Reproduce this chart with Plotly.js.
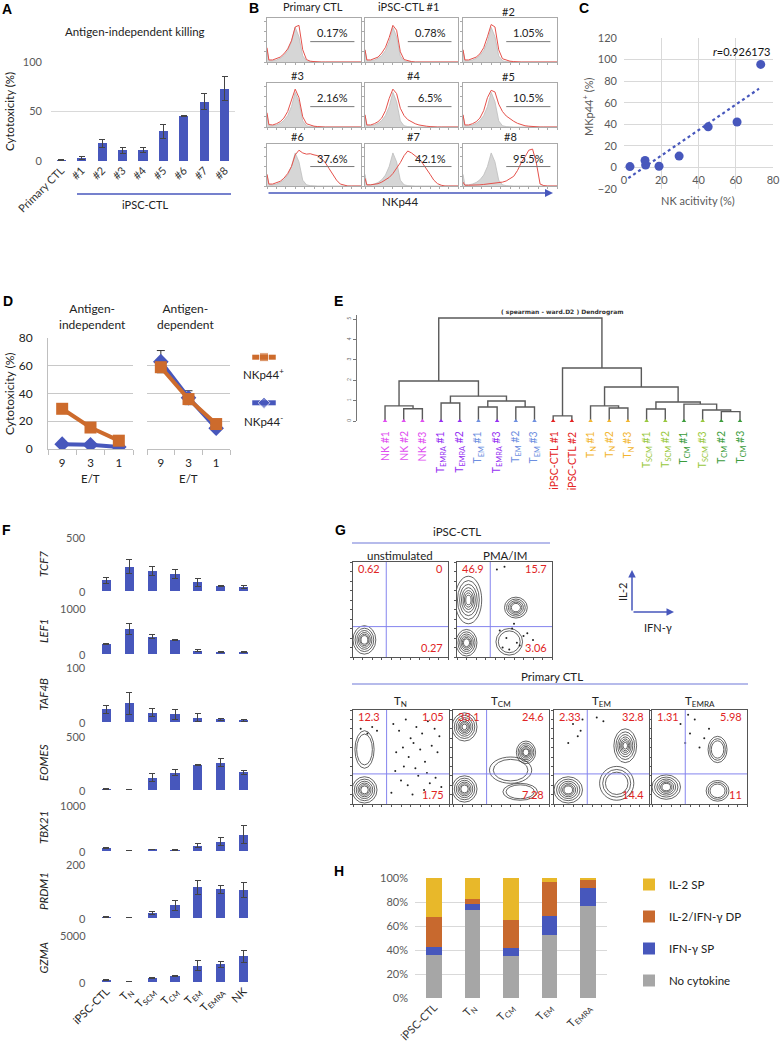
<!DOCTYPE html>
<html><head><meta charset="utf-8">
<script src="https://cdn.plot.ly/plotly-3.0.1.min.js"></script>
<style>html,body{margin:0;padding:0;background:#fff}#chart{width:780px;height:1042px}</style>
</head><body><div id="chart"></div>
<script>
// ================= DATA =================
// A: antigen-independent killing
const killCats = ['Primary CTL','#1','#2','#3','#4','#5','#6','#7','#8'];
const killVals = [1.3,3,18,11,11,30,45,60,73];
const killErr  = [0.5,1.2,4,3,2.5,7,0.5,8,12];

// B: NKp44 histograms
const nkTitles = ['Primary CTL','iPSC-CTL #1','#2','#3','#4','#5','#6','#7','#8'];
const nkPct = ['0.17%','0.78%','1.05%','2.16%','6.5%','10.5%','37.6%','42.1%','95.5%'];
const histBins = [0,2,6,10,14,18,22,26,30,34,38,42,46,50,54,58,62,66,70,74,78,82,86,90,95,100];
const isoCurve = [0.3,0.03,0.03,0.05,0.09,0.16,0.28,0.5,0.85,0.62,0.15,0.03,0.01,0,0,0,0,0,0,0,0,0,0,0,0,0];
const nkCurvePrimary = [0.35,0.05,0.05,0.08,0.12,0.2,0.32,0.52,0.86,0.9,0.3,0.06,0.02,0.01,0,0,0,0,0,0,0,0,0,0,0,0];
const nkCurve1 = [0.3,0.05,0.05,0.08,0.12,0.22,0.36,0.6,0.9,0.78,0.25,0.06,0.03,0.01,0,0,0,0,0,0,0,0,0,0,0,0];
const nkCurve2 = [0.3,0.05,0.05,0.08,0.12,0.2,0.35,0.62,0.92,0.86,0.3,0.08,0.04,0.02,0.01,0,0,0,0,0,0,0,0,0,0,0];
const nkCurve3 = [0.35,0.06,0.05,0.08,0.13,0.22,0.38,0.65,0.93,0.72,0.25,0.08,0.04,0.02,0.01,0,0,0,0,0,0,0,0,0,0,0];
const nkCurve4 = [0.3,0.05,0.05,0.08,0.13,0.22,0.4,0.7,0.93,0.82,0.46,0.28,0.18,0.12,0.08,0.05,0.03,0.02,0.01,0,0,0,0,0,0,0];
const nkCurve5 = [0.3,0.05,0.05,0.08,0.13,0.22,0.4,0.72,0.9,0.86,0.56,0.38,0.27,0.2,0.14,0.09,0.06,0.03,0.02,0.01,0,0,0,0,0,0];
const nkCurve6 = [0.3,0.05,0.05,0.08,0.12,0.2,0.32,0.5,0.8,0.92,0.85,0.82,0.83,0.8,0.78,0.7,0.6,0.45,0.3,0.15,0.05,0.02,0,0,0,0];
const nkCurve7 = [0.2,0.03,0.03,0.04,0.06,0.1,0.15,0.22,0.32,0.45,0.6,0.78,0.9,0.85,0.78,0.7,0.58,0.45,0.3,0.15,0.06,0.02,0,0,0,0];
const nkCurve8 = [0.1,0.02,0.02,0.02,0.02,0.03,0.04,0.05,0.06,0.07,0.08,0.1,0.13,0.18,0.25,0.4,0.6,0.75,0.92,0.95,0.6,0.05,0.01,0,0,0];
const nkCurves = [nkCurvePrimary,nkCurve1,nkCurve2,nkCurve3,nkCurve4,nkCurve5,nkCurve6,nkCurve7,nkCurve8];
const gateX = [46,93];
const gateY = [0.5,0.5];

// C: correlation
const nkActivity = [3.2,18.8,11.6,11.3,29.6,45.2,60.7,73.4];
const nkp44Pos   = [0.78,1.05,2.16,6.5,10.5,37.6,42.1,95.5];
const trendX = [2.3,72.5];
const trendY = [-10,73];
const rText = '<i>r</i>=0.926173';

// D: cytotoxicity vs E/T
const etRatio = ['9','3','1'];
const indepPos = [29,15.5,6];
const indepNeg = [3.5,3,1.5];
const depPos = [59,36,18];
const depNeg = [63,37,15];
const depNegErr = [8,5,2];

// E: dendrogram
const leafNames = ['NK #1','NK #2','NK #3','T<sub>EMRA</sub> #1','T<sub>EMRA</sub> #2','T<sub>EM</sub> #1','T<sub>EMRA</sub> #3','T<sub>EM</sub> #2','T<sub>EM</sub> #3','iPSC-CTL #1','iPSC-CTL #2','T<sub>N</sub> #1','T<sub>N</sub> #2','T<sub>N</sub> #3','T<sub>SCM</sub> #1','T<sub>SCM</sub> #2','T<sub>CM</sub> #1','T<sub>SCM</sub> #3','T<sub>CM</sub> #2','T<sub>CM</sub> #3'];
const leafGroup = ['NK','NK','NK','TEMRA','TEMRA','TEM','TEMRA','TEM','TEM','iPSC','iPSC','TN','TN','TN','TSCM','TSCM','TCM','TSCM','TCM','TCM'];
// hclust-style merges: negative = leaf (1-based), positive = earlier merge (1-based)
const mergeA = [-2,-1,-4,-6,-8,4,3,2,-10,-13,-12,-15,-19,-18,-17,12,11,9,8];
const mergeB = [-3, 1,-5,-7,-9,5,6,7,-11,-14, 10,-16,-20, 13, 14,15,16,17,18];
const mergeH = [0.6,0.74,0.88,0.69,0.69,0.98,1.22,1.96,0.25,0.64,0.74,0.59,0.46,0.54,0.83,0.93,1.67,2.6,5.05];
const dendTicks = [0,1,2,3,4,5];

// F: gene expression
const fCats = ['iPSC-CTL','T<sub>N</sub>','T<sub>SCM</sub>','T<sub>CM</sub>','T<sub>EM</sub>','T<sub>EMRA</sub>','NK'];
const fGenes = ['TCF7','LEF1','TAF4B','EOMES','TBX21','PRDM1','GZMA'];
const fMax = [500,1000,100,500,1000,200,5000];
const TCF7  = [100,225,185,155,80,45,40];      const TCF7err  = [27,65,42,40,37,5,15];
const LEF1  = [215,545,380,300,70,40,40];      const LEF1err  = [8,115,35,15,22,8,8];
const TAF4B = [23,34,17,14,8,5,3];             const TAF4Berr = [7,20,7,9,7,2,1.5];
const EOMES = [9,2,115,160,230,253,165];       const EOMESerr = [2,1,40,30,4,37,20];
const TBX21 = [72,3,36,22,116,203,355];        const TBX21err = [8,2,7,7,50,87,195];
const PRDM1 = [4,1.2,18.5,47,114,107,105];     const PRDM1err = [1,0.5,6,18,26,15,28];
const GZMA  = [210,35,420,670,1725,1900,2750]; const GZMAerr  = [70,15,70,70,530,320,630];
const fVals = [TCF7,LEF1,TAF4B,EOMES,TBX21,PRDM1,GZMA];
const fErrs = [TCF7err,LEF1err,TAF4Berr,EOMESerr,TBX21err,PRDM1err,GZMAerr];

// G: flow plots (IFN-γ on x, IL-2 on y, 0-100 display scale)
const gTitles = ['unstimulated','PMA/IM','T<sub>N</sub>','T<sub>CM</sub>','T<sub>EM</sub>','T<sub>EMRA</sub>'];
const gUL = ['0.62','46.9','12.3','33.1','2.33','1.31'];
const gUR = ['0','15.7','1.05','24.6','32.8','5.98'];
const gLR = ['0.27','3.06','1.75','7.28','14.4','11'];
const gGate = [35,32];
// populations: [centre x, centre y, radius x, radius y, contour rings]
const gBlobs = [
  [[12,18,12,15,6]],
  [[10,15,11,14,6],[12,60,14,25,7],[62,52,12,11,5],[55,16,14,14,2]],
  [[12,15,13,14,6],[12,58,10,20,2]],
  [[12,82,13,15,7],[12,16,13,14,6],[76,55,10,12,6],[60,36,22,14,2],[70,13,18,9,2]],
  [[15,15,15,14,6],[75,62,12,18,7],[66,22,18,18,3]],
  [[15,18,15,13,6],[69,58,10,14,3],[69,14,12,11,3]]
];
const gDotsX = [[],[45,52,58,63,70,48,55,66,74,60,80,42,50],[42,48,55,60,66,72,78,85,90,45,52,58,63,70,75,82,88,50,57,68,74,80,62,40,44,53,65,77,86,92,8,15,20,25],[],[20,25,30,15,28,45,52],[30,40,45,55,50,38,60,35]];
const gDotsY = [[],[28,20,30,15,22,10,8,12,25,35,18,92,95],[85,78,90,70,82,75,88,80,72,55,60,50,65,58,45,62,55,25,20,30,15,22,10,12,35,40,38,33,28,18,80,75,82,78],[],[85,72,90,65,78,92,88],[85,75,90,70,60,95,80,65]];

// H: cytokine production
const cytoCats = ['iPSC-CTL','T<sub>N</sub>','T<sub>CM</sub>','T<sub>EM</sub>','T<sub>EMRA</sub>'];
const noCyto = [35.9,73.2,35.1,52.5,77.1];
const ifnSP  = [6.9,5.3,6.9,16,14.6];
const dpIL2IFN = [24.6,3.8,22.9,28.5,6.9];
const il2SP  = [32.6,17.7,35.1,3,1.4];

// ================= HELPERS =================
const W=780,H=1042;
const FONT='Lato, "Open Sans", "Liberation Sans", sans-serif';
const GRID='#d9d9d9', TICK='#595959', BLUE='#4757bc', ORANGE='#cd6b2c', RED='#e02424';
const layout={width:W,height:H,margin:{l:0,r:0,t:0,b:0},paper_bgcolor:'#fff',plot_bgcolor:'rgba(0,0,0,0)',
  font:{family:FONT,size:11,color:'#222'},annotations:[],shapes:[],barmode:'stack',showlegend:true,
  legend:{x:629/W,y:1-870/H,xanchor:'left',yanchor:'top',traceorder:'grouped',tracegroupgap:13,font:{size:11.5,color:'#222'},itemwidth:30,bgcolor:'rgba(0,0,0,0)'}};
const data=[];
let nAx=0;
function axes(px0,px1,py0,py1,xo,yo){
  nAx++; const s=nAx===1?'':String(nAx);
  const base={showgrid:false,zeroline:false,showline:false,ticks:'',showticklabels:false,fixedrange:true};
  layout['xaxis'+s]=Object.assign({},base,{domain:[px0/W,px1/W],anchor:'y'+s},xo||{});
  layout['yaxis'+s]=Object.assign({},base,{domain:[1-py1/H,1-py0/H],anchor:'x'+s},yo||{});
  return {x:'x'+s,y:'y'+s};
}
function txt(px,py,text,o){
  layout.annotations.push(Object.assign({xref:'paper',yref:'paper',x:px/W,y:1-py/H,text:text,showarrow:false,
    xanchor:'center',yanchor:'middle',font:{size:11,color:'#222'}},o||{}));
}
function pline(px0,py0,px1,py1,color,w){
  layout.shapes.push({type:'line',xref:'paper',yref:'paper',x0:px0/W,y0:1-py0/H,x1:px1/W,y1:1-py1/H,line:{color:color,width:w||1}});
}
function letter(px,py,t){ txt(px,py,'<b>'+t+'</b>',{font:{size:14,color:'#000',family:'"Liberation Sans", Arial, sans-serif'}}); }

// ================= A =================
letter(7,9,'A');
let ax=axes(51,235,62,161,
  {type:'category',range:[-0.5,8.5],tickangle:-45,showticklabels:true,tickfont:{size:11,color:'#333'}},
  {range:[0,100.05],tickvals:[0,50,100],showgrid:true,gridcolor:GRID,showticklabels:true,tickfont:{size:11,color:TICK},ticklabelstandoff:8});
data.push({type:'bar',x:killCats,y:killVals,xaxis:ax.x,yaxis:ax.y,width:0.45,marker:{color:BLUE},
  error_y:{type:'data',array:killErr,color:'#444',thickness:1,width:3},showlegend:false});
txt(135,31,'Antigen-independent killing',{font:{size:11.5,color:'#222'}});
txt(10,112,'Cytotoxicity (%)',{textangle:-90,font:{size:11.5,color:'#222'}});
pline(77,194,231,194,BLUE,1.5);
txt(145,204,'iPSC-CTL',{font:{size:11,color:'#222'}});

// ================= B =================
letter(254,8,'B');
const bCols=[[267,361],[365,458],[463,557]], bRows=[[18,62],[83,127],[144,186]];
const bTitlePos=[[313,6],[408,6],[508,12],[297,75],[413,75],[508,77],[297,137],[413,137],[510,137]];
for(let i=0;i<9;i++){
  const r=Math.floor(i/3), c=i%3;
  const a=axes(bCols[c][0],bCols[c][1],bRows[r][0],bRows[r][1],
    {range:[0,100],showline:true,mirror:true,linecolor:'#aaa',ticks:'outside',ticklen:2,dtick:10,tickcolor:'#aaa'},
    {range:[0,1.08],showline:true,mirror:true,linecolor:'#aaa',ticks:'outside',ticklen:2,dtick:0.25,tickcolor:'#aaa'});
  data.push({type:'scatter',mode:'lines',x:histBins,y:isoCurve,xaxis:a.x,yaxis:a.y,fill:'tozeroy',fillcolor:'#d6d6d6',line:{color:'#bdbdbd',width:0.8},showlegend:false});
  data.push({type:'scatter',mode:'lines',x:histBins,y:nkCurves[i],xaxis:a.x,yaxis:a.y,line:{color:'#e5514b',width:1},showlegend:false});
  data.push({type:'scatter',mode:'lines',x:gateX,y:gateY,xaxis:a.x,yaxis:a.y,line:{color:'#777',width:1},showlegend:false});
  layout.annotations.push({xref:a.x,yref:a.y,x:70,y:0.72,text:nkPct[i],showarrow:false,font:{size:11,color:'#222'}});
  txt(bTitlePos[i][0],bTitlePos[i][1],nkTitles[i],{font:{size:11,color:'#222'}});
}
layout.annotations.push({xref:'paper',yref:'paper',x:553/W,y:1-193/H,ax:-286,ay:0,text:'',showarrow:true,arrowhead:2,arrowsize:1,arrowwidth:1.6,arrowcolor:BLUE});
txt(401,201,'NKp44',{font:{size:11.5,color:'#222'}});

// ================= C =================
letter(584,8,'C');
ax=axes(624,773,38,189,
  {range:[0,80],dtick:20,showgrid:true,gridcolor:GRID,showticklabels:true,tickfont:{size:11,color:TICK},anchor:'free',position:1-167.4/H,ticklabelstandoff:5},
  {range:[-20,120],dtick:20,showgrid:true,gridcolor:GRID,showticklabels:true,tickfont:{size:11,color:TICK},ticklabelstandoff:6});
data.push({type:'scatter',mode:'lines',x:trendX,y:trendY,xaxis:ax.x,yaxis:ax.y,line:{color:BLUE,width:2.2,dash:'dot'},showlegend:false});
data.push({type:'scatter',mode:'markers',x:nkActivity,y:nkp44Pos,xaxis:ax.x,yaxis:ax.y,marker:{color:BLUE,size:9},showlegend:false});
txt(741,51,rText,{font:{size:11,color:'#111'}});
txt(588,107,'MKp44<sup>+</sup> (%)',{textangle:-90,font:{size:11,color:TICK}});
txt(698,200,'NK acitivity (%)',{font:{size:11,color:TICK}});

// ================= D =================
letter(8,301,'D');
const dX={type:'category',range:[-0.5,2.5],showline:true,linecolor:'#bfbfbf',ticks:'outside',tickson:'boundaries',ticklen:5,tickcolor:'#bfbfbf',showticklabels:true,tickfont:{size:11.5,color:'#222'},ticklabelstandoff:3};
ax=axes(48,133,338,449,dX,
  {range:[0,80.05],dtick:20,showgrid:true,gridcolor:'#c8c8c8',showline:true,linecolor:'#bfbfbf',showticklabels:true,tickfont:{size:12,color:'#222'},ticklabelstandoff:12});
data.push({type:'scatter',mode:'lines+markers',x:etRatio,y:indepNeg,xaxis:ax.x,yaxis:ax.y,line:{color:BLUE,width:4},marker:{symbol:'diamond',size:12,color:BLUE},showlegend:false});
data.push({type:'scatter',mode:'lines+markers',x:etRatio,y:indepPos,xaxis:ax.x,yaxis:ax.y,line:{color:ORANGE,width:4},marker:{symbol:'square',size:12,color:ORANGE},showlegend:false});
ax=axes(147,230,338,449,dX,{range:[0,80.05],dtick:20,showgrid:true,gridcolor:'#c8c8c8'});
data.push({type:'scatter',mode:'lines+markers',x:etRatio,y:depNeg,xaxis:ax.x,yaxis:ax.y,line:{color:BLUE,width:4},marker:{symbol:'diamond',size:12,color:BLUE},
  error_y:{type:'data',array:depNegErr,color:'#333',thickness:1,width:4},showlegend:false});
data.push({type:'scatter',mode:'lines+markers',x:etRatio,y:depPos,xaxis:ax.x,yaxis:ax.y,line:{color:ORANGE,width:4},marker:{symbol:'square',size:12,color:ORANGE},showlegend:false});
txt(92,316,'Antigen-<br>independent',{font:{size:12,color:'#222'}});
txt(185,316,'Antigen-<br>dependent',{font:{size:12,color:'#222'}});
txt(90,478,'E/T',{font:{size:11.5,color:'#222'}});
txt(188,478,'E/T',{font:{size:11.5,color:'#222'}});
txt(9,394,'Cytotoxicity (%)',{textangle:-90,font:{size:12,color:'#222'}});
// manual legend
ax=axes(250,278,350,410,{range:[0,1]},{range:[0,1]});
data.push({type:'scatter',mode:'lines+markers',x:[0.08,0.5,0.92],y:[0.88,0.88,0.88],xaxis:ax.x,yaxis:ax.y,line:{color:ORANGE,width:5},marker:{symbol:'square',size:[0,9,0],color:ORANGE},showlegend:false});
data.push({type:'scatter',mode:'lines+markers',x:[0.08,0.5,0.92],y:[0.12,0.12,0.12],xaxis:ax.x,yaxis:ax.y,line:{color:BLUE,width:5},marker:{symbol:'diamond',size:[0,9,0],color:BLUE},showlegend:false});
txt(263,373,'NKp44<sup>+</sup>',{font:{size:11.5,color:'#222'}});
txt(263,420,'NKp44<sup>-</sup>',{font:{size:11.5,color:'#222'}});

// ================= E =================
letter(338,301,'E');
ax=axes(357,760,315,421,{range:[-0.5,21.07]},
  {range:[0,5.2],tickvals:dendTicks,showline:true,linecolor:'#777',ticks:'outside',ticklen:3,tickcolor:'#777',showticklabels:true,tickfont:{size:5,color:'#666'},tickangle:-90});
const nodeX=[],nodeH=[];
function nodePos(id){ return id<0?[-id,0]:[nodeX[id-1],nodeH[id-1]]; }
const dxs=[],dys=[];
for(let k=0;k<mergeA.length;k++){
  const pa=nodePos(mergeA[k]), pb=nodePos(mergeB[k]), h=mergeH[k];
  dxs.push(pa[0],pa[0],pb[0],pb[0],null); dys.push(pa[1],h,h,pb[1],null);
  nodeX.push((pa[0]+pb[0])/2); nodeH.push(h);
}
data.push({type:'scatter',mode:'lines',x:dxs,y:dys,xaxis:ax.x,yaxis:ax.y,line:{color:'#5a5a5a',width:1.4},showlegend:false});
const groupColor={NK:'#e04cf0',TEMRA:'#9630f2',TEM:'#6d8ee0',iPSC:'#e42222',TN:'#f2b52e',TSCM:'#98c83c',TCM:'#3b9c3b'};
const leafX=leafNames.map((_,i)=>i+1);
data.push({type:'scatter',mode:'markers',x:leafX,y:leafX.map(()=>0),xaxis:ax.x,yaxis:ax.y,marker:{symbol:'triangle-up',size:4,color:leafGroup.map(g=>groupColor[g])},showlegend:false,cliponaxis:false});
leafNames.forEach((n,i)=>{
  layout.annotations.push({xref:ax.x,yref:'paper',x:i+1,y:1-429/H,text:n,textangle:-90,showarrow:false,xanchor:'center',yanchor:'top',font:{size:10.5,color:groupColor[leafGroup[i]]}});
});
txt(562,312,'<b>( spearman - ward.D2 ) Dendrogram</b>',{font:{size:6,color:'#333',family:'"DejaVu Sans", sans-serif'}});

// ================= F =================
letter(7,530,'F');
const fTop=[537,608,667,736,805,864,935], fBot=[591,654,722,790,851,918,982];
for(let g=0;g<7;g++){
  const last=g===6;
  const a=axes(95,255,fTop[g],fBot[g],
    last?{type:'category',range:[-0.5,6.5],showticklabels:true,tickangle:-45,tickfont:{size:11,color:'#222'}}
        :{type:'category',range:[-0.5,6.5]},
    {range:[0,fMax[g]],tickvals:[0,fMax[g]],showgrid:true,gridcolor:GRID,showticklabels:false});
  data.push({type:'bar',x:fCats,y:fVals[g],xaxis:a.x,yaxis:a.y,width:0.4,marker:{color:BLUE},
    error_y:{type:'data',array:fErrs[g],color:'#444',thickness:1,width:3},showlegend:false});
  // value-axis labels (0 and maximum) beside each strip
  txt(88,fBot[g],'0',{xanchor:'right',font:{size:11,color:TICK}});
  txt(88,fTop[g],String(fMax[g]),{xanchor:'right',font:{size:11,color:TICK}});
  txt(43,(fTop[g]+fBot[g])/2,'<i>'+fGenes[g]+'</i>',{textangle:-90,font:{size:11.5,color:'#222'}});
}

// ================= G =================
letter(340,530,'G');
txt(457,531,'iPSC-CTL',{font:{size:11.5,color:'#222'}});
pline(352,543,550,543,'#6f78d8',1.2);
txt(552,676,'Primary CTL',{font:{size:11.5,color:'#222'}});
pline(352,684,748,684,'#6f78d8',1.2);
const gBox=[[353,448,562,657],[457,552,562,657],[353,449,710,804],[453,549,710,804],[554,649,710,804],[652,747,710,804]];
const gTitleY=[555,555,701,701,701,701];
const ringScale=[1,0.82,0.66,0.52,0.4,0.3,0.2];
for(let i=0;i<6;i++){
  const b=gBox[i];
  const a=axes(b[0],b[1],b[2],b[3],
    {range:[0,100],showline:true,mirror:true,linecolor:'#555',ticks:'outside',ticklen:2,dtick:10,tickcolor:'#555'},
    {range:[0,100],showline:true,mirror:true,linecolor:'#555',ticks:'outside',ticklen:2,dtick:10,tickcolor:'#555'});
  gBlobs[i].forEach(bl=>{
    for(let k=0;k<bl[4];k++){
      const s=ringScale[k];
      layout.shapes.push({type:'circle',xref:a.x,yref:a.y,x0:bl[0]-bl[2]*s,x1:bl[0]+bl[2]*s,y0:bl[1]-bl[3]*s,y1:bl[1]+bl[3]*s,line:{color:'#222',width:0.7},layer:'above'});
    }
  });
  if(gDotsX[i].length) data.push({type:'scatter',mode:'markers',x:gDotsX[i],y:gDotsY[i],xaxis:a.x,yaxis:a.y,marker:{size:2,color:'#222'},showlegend:false});
  layout.shapes.push({type:'line',xref:a.x,yref:a.y,x0:gGate[0],x1:gGate[0],y0:0,y1:100,line:{color:'#8585ee',width:1}});
  layout.shapes.push({type:'line',xref:a.x,yref:a.y,x0:0,x1:100,y0:gGate[1],y1:gGate[1],line:{color:'#8585ee',width:1}});
  layout.annotations.push({xref:a.x,yref:a.y,x:3,y:93,text:gUL[i],showarrow:false,xanchor:'left',yanchor:'middle',font:{size:11,color:RED}});
  layout.annotations.push({xref:a.x,yref:a.y,x:97,y:93,text:gUR[i],showarrow:false,xanchor:'right',yanchor:'middle',font:{size:11,color:RED}});
  layout.annotations.push({xref:a.x,yref:a.y,x:97,y:10,text:gLR[i],showarrow:false,xanchor:'right',yanchor:'middle',font:{size:11,color:RED}});
  txt((b[0]+b[1])/2,gTitleY[i],gTitles[i],{font:{size:11.5,color:'#222'}});
}
layout.annotations.push({xref:'paper',yref:'paper',x:632/W,y:1-570/H,ax:0,ay:42,text:'',showarrow:true,arrowhead:2,arrowsize:1,arrowwidth:1.5,arrowcolor:BLUE});
layout.annotations.push({xref:'paper',yref:'paper',x:674/W,y:1-612/H,ax:-42,ay:0,text:'',showarrow:true,arrowhead:2,arrowsize:1,arrowwidth:1.5,arrowcolor:BLUE});
txt(622,592,'IL-2',{textangle:-90,font:{size:11,color:'#222'}});
txt(658,627,'IFN-γ',{font:{size:11,color:'#222'}});

// ================= H =================
letter(339,871,'H');
ax=axes(415,607,878,998,
  {type:'category',range:[-0.5,4.5],tickangle:-45,showticklabels:true,tickfont:{size:11,color:'#333'}},
  {range:[0,100.05],dtick:20,ticksuffix:'%',showgrid:true,gridcolor:GRID,showticklabels:true,tickfont:{size:11,color:TICK},ticklabelstandoff:6});
const hSeries=[['No cytokine',noCyto,'#a6a6a6',4],['IFN-γ SP',ifnSP,'#4757bc',3],['IL-2/IFN-γ DP',dpIL2IFN,'#c8692e',2],['IL-2 SP',il2SP,'#e8b82a',1]];
hSeries.forEach((s,i)=>{
  data.push({type:'bar',name:s[0],x:cytoCats,y:s[1],xaxis:ax.x,yaxis:ax.y,width:0.41,marker:{color:s[2]},legendgroup:'h'+i,legendrank:s[3],showlegend:true});
});

Plotly.newPlot('chart',data,layout,{displayModeBar:false,staticPlot:true});
</script></body></html>
